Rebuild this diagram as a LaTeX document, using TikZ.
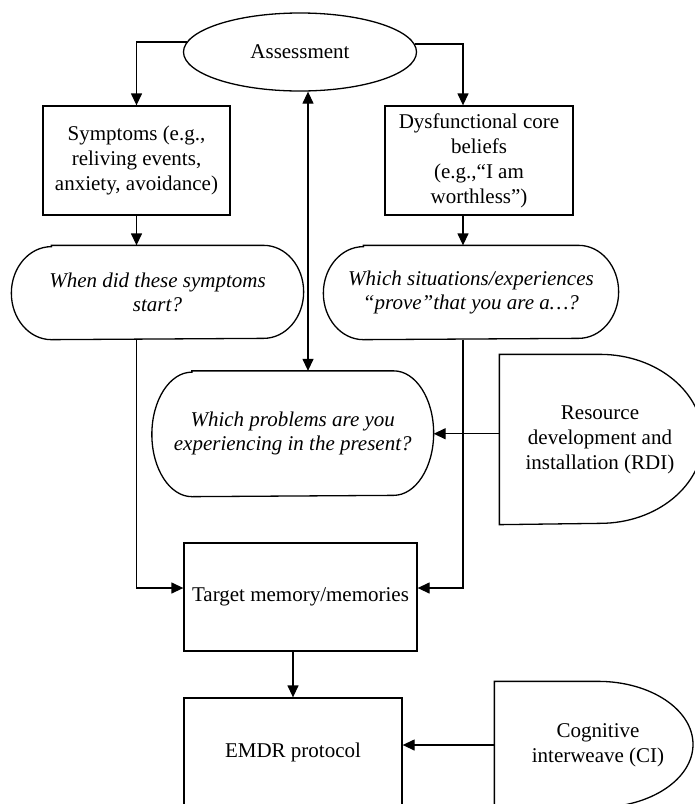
\documentclass[tikz,border=0pt]{standalone}
\usepackage{fontspec}
\setmainfont{Liberation Serif}
\usetikzlibrary{arrows.meta,calc,shapes.geometric}
\newcommand\drawstadium[3]{%
  \draw ([xshift=#2]#1.north west) -- ([xshift=-#2]#1.north east)
    arc[start angle=90,end angle=-90,x radius=#2,y radius=#3]
    -- ([xshift=#2]#1.south west)
    arc[start angle=270,end angle=90,x radius=#2,y radius=#3] -- cycle;}
\begin{document}
\begin{tikzpicture}[x=1pt,y=-1pt,line width=1.3pt,
  txt/.style={align=center,font=\fontsize{21}{25}\selectfont,inner sep=0pt},
  box/.style={txt,draw,rectangle},
  stad/.style={txt,font=\fontsize{21}{24}\selectfont\itshape},
  plain/.style={txt},
  arr/.style={-{Triangle[length=12pt,width=11pt]}},
  darr/.style={{Triangle[length=12pt,width=11pt]}-{Triangle[length=12pt,width=11pt]}}]
\useasboundingbox (0,0) rectangle (695,804);
\clip (0,0) rectangle (695,804);
% nodes
\node[txt,draw,ellipse,minimum width=233pt,minimum height=78pt] (assess) at (300,52) {Assessment};
\node[box,minimum width=187pt,minimum height=109pt] (symp) at (136.5,160.5) {Symptoms (e.g.,\\reliving events,\\anxiety, avoidance)};
\node[box,minimum width=188pt,minimum height=109pt] (dysf) at (479,160.5) {Dysfunctional core\\beliefs\\(e.g.,“I am\\worthless”)};
\node[stad,minimum width=291pt,minimum height=93pt] (when) at (157.5,292.5) {When did these symptoms\\start?};
\node[stad,minimum width=294pt,minimum height=93pt] (sit) at (471,292.5) {Which situations/experiences\\“prove”that you are a…?};
\node[stad,minimum width=280.5pt,minimum height=124.5pt] (probs) at (292.75,433.75) {Which problems are you\\experiencing in the present?};
\node[plain,minimum width=200pt,minimum height=169pt] (rdi) at (600,439.5) {Resource\\development and\\installation (RDI)};
\node[box,minimum width=233pt,minimum height=108pt] (target) at (300.5,597) {Target memory/memories};
\node[box,minimum width=218pt,minimum height=108pt] (emdr) at (293,752) {EMDR protocol};
\node[plain,minimum width=206pt,minimum height=126pt] (ci) at (598,745) {Cognitive\\interweave (CI)};
% outlines
\drawstadium{when}{40pt}{46.5pt}
\drawstadium{sit}{40pt}{46.5pt}
\drawstadium{probs}{40pt}{62.25pt}
\draw (rdi.north west) -- (rdi.north) arc[start angle=90,end angle=-90,x radius=103pt,y radius=84.5pt] -- (rdi.south west) -- cycle;
\draw (ci.north west) -- (ci.north) arc[start angle=90,end angle=-90,x radius=95pt,y radius=63pt] -- (ci.south west) -- cycle;
% column coordinates
\coordinate (rc) at (463,0);
\coordinate (cc) at (308,0);
% connectors
\draw[arr] (assess.175.5) -| (symp.north);
\draw[arr] (assess.4.5) -| (rc |- dysf.north);
\draw[arr] (symp.south) -- (symp.south |- when.north);
\draw[arr] (rc |- dysf.south) -- (rc |- sit.north);
\draw[arr] (symp.south |- when.south) |- ([yshift=9pt]target.west);
\draw[arr] (rc |- sit.south) |- ([yshift=9pt]target.east);
\draw[darr] (cc |- assess.south) -- (cc |- probs.north);
\draw[arr] (rdi.west |- probs.east) -- (probs.east);
\draw[arr] (emdr.north |- target.south) -- (emdr.north);
\draw[arr] (ci.west) -- (ci.west -| emdr.east);
\end{tikzpicture}
\end{document}
